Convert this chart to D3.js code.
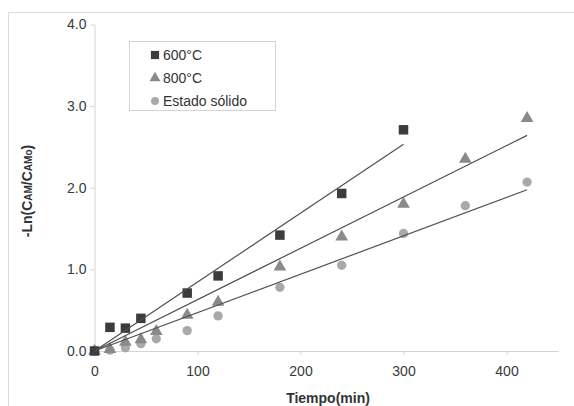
<!DOCTYPE html>
<html>
<head>
<meta charset="utf-8">
<script src="https://cdn.jsdelivr.net/npm/d3@7"></script>
<style>
  body { margin: 0; background: #fff; }
  text { font-family: "Liberation Sans", Arial, sans-serif; }
</style>
</head>
<body>
<div id="chart"></div>
<script>
// data
var t600 = [0, 15, 30, 45, 90, 120, 180, 240, 300];
var v600 = [0, 0.29, 0.28, 0.40, 0.71, 0.92, 1.42, 1.93, 2.71];

var t800 = [0, 15, 30, 45, 60, 90, 120, 180, 240, 300, 360, 420];
var v800 = [0, 0.02, 0.11, 0.14, 0.24, 0.44, 0.60, 1.03, 1.40, 1.80, 2.35, 2.85];

var tSol = [0, 15, 30, 45, 60, 90, 120, 180, 240, 300, 360, 420];
var vSol = [0, 0.01, 0.04, 0.09, 0.15, 0.25, 0.43, 0.78, 1.05, 1.44, 1.78, 2.07];

var seriesNames = ['600°C', '800°C', 'Estado sólido'];
var xTicks = [0, 100, 200, 300, 400];
var yTicks = [0, 1, 2, 3, 4];

var W = 574, H = 406;
var svg = d3.select('#chart').append('svg')
  .attr('width', W)
  .attr('height', H);

// outer chart border
svg.append('rect')
  .attr('x', 8.5).attr('y', 12.5)
  .attr('width', 580).attr('height', 420)
  .attr('fill', 'none')
  .attr('stroke', '#dcdcdc');

var x = d3.scaleLinear().domain([0, 450]).range([94.5, 558]);
var y = d3.scaleLinear().domain([0, 4]).range([351, 24.5]);

var xAxis = svg.append('g')
  .attr('transform', 'translate(0,' + y(0) + ')')
  .call(d3.axisBottom(x).tickValues(xTicks).tickSize(4).tickSizeOuter(0).tickPadding(11)
    .tickFormat(d3.format('d')));
var yAxis = svg.append('g')
  .attr('transform', 'translate(' + x(0) + ',0)')
  .call(d3.axisLeft(y).tickValues(yTicks).tickSize(4).tickSizeOuter(0).tickPadding(4)
    .tickFormat(d3.format('.1f')));

[xAxis, yAxis].forEach(function (a) {
  a.select('.domain').attr('stroke', '#d4d4d4');
  a.selectAll('.tick line').attr('stroke', '#d4d4d4');
  a.selectAll('.tick text')
    .attr('fill', '#3a3a3a')
    .style('font-size', '14px');
});

var series = [
  { t: t600, v: v600, color: '#3c3c3c', shape: d3.symbolSquare, size: 90 },
  { t: t800, v: v800, color: '#8a8a8a', shape: d3.symbolTriangle, size: 70 },
  { t: tSol, v: vSol, color: '#a9a9a9', shape: d3.symbolCircle, size: 68 }
];

// trendlines through origin (least squares, intercept 0)
series.forEach(function (s) {
  var num = 0, den = 0;
  for (var i = 0; i < s.t.length; i++) {
    num += s.t[i] * s.v[i];
    den += s.t[i] * s.t[i];
  }
  s.slope = num / den;
  s.tMax = d3.max(s.t);
});

var gLines = svg.append('g');
var gPts = svg.append('g');

// points drawn in reverse order so squares stay on top
series.slice().reverse().forEach(function (s) {
  gPts.selectAll(null)
    .data(s.t)
    .enter()
    .append('path')
    .attr('d', d3.symbol().type(s.shape).size(s.size))
    .attr('transform', function (d, i) {
      return 'translate(' + x(d) + ',' + y(s.v[i]) + ')';
    })
    .attr('fill', s.color);
});

series.forEach(function (s) {
  gLines.append('line')
    .attr('x1', x(0)).attr('y1', y(0))
    .attr('x2', x(s.tMax)).attr('y2', y(s.slope * s.tMax))
    .attr('stroke', '#505050')
    .attr('stroke-width', 1.2);
});
gLines.raise();

// legend
var leg = svg.append('g');
leg.append('rect')
  .attr('x', 129.5).attr('y', 41.5)
  .attr('width', 146).attr('height', 69)
  .attr('fill', '#fff')
  .attr('stroke', '#d4d4d4');
seriesNames.forEach(function (n, i) {
  var s = series[i];
  var yy = 55 + i * 23;
  leg.append('path')
    .attr('d', d3.symbol().type(s.shape).size(s.size * 0.75))
    .attr('transform', 'translate(155,' + yy + ')')
    .attr('fill', s.color);
  leg.append('text')
    .attr('x', 163).attr('y', yy + 5)
    .attr('fill', '#333')
    .style('font-size', '14px')
    .text(n);
});

// axis titles
svg.append('text')
  .attr('x', 328).attr('y', 403)
  .attr('text-anchor', 'middle')
  .attr('fill', '#333')
  .style('font-size', '14px')
  .style('font-weight', 'bold')
  .text('Tiempo(min)');

var yt = svg.append('text')
  .attr('transform', 'translate(32,191) rotate(-90)')
  .attr('text-anchor', 'middle')
  .attr('fill', '#333')
  .style('font-size', '14px')
  .style('font-weight', 'bold');
yt.append('tspan').text('-Ln(C');
yt.append('tspan').style('font-size', '10px').text('AM');
yt.append('tspan').text('/C');
yt.append('tspan').style('font-size', '10px').text('AMo');
yt.append('tspan').text(')');
</script>
</body>
</html>
